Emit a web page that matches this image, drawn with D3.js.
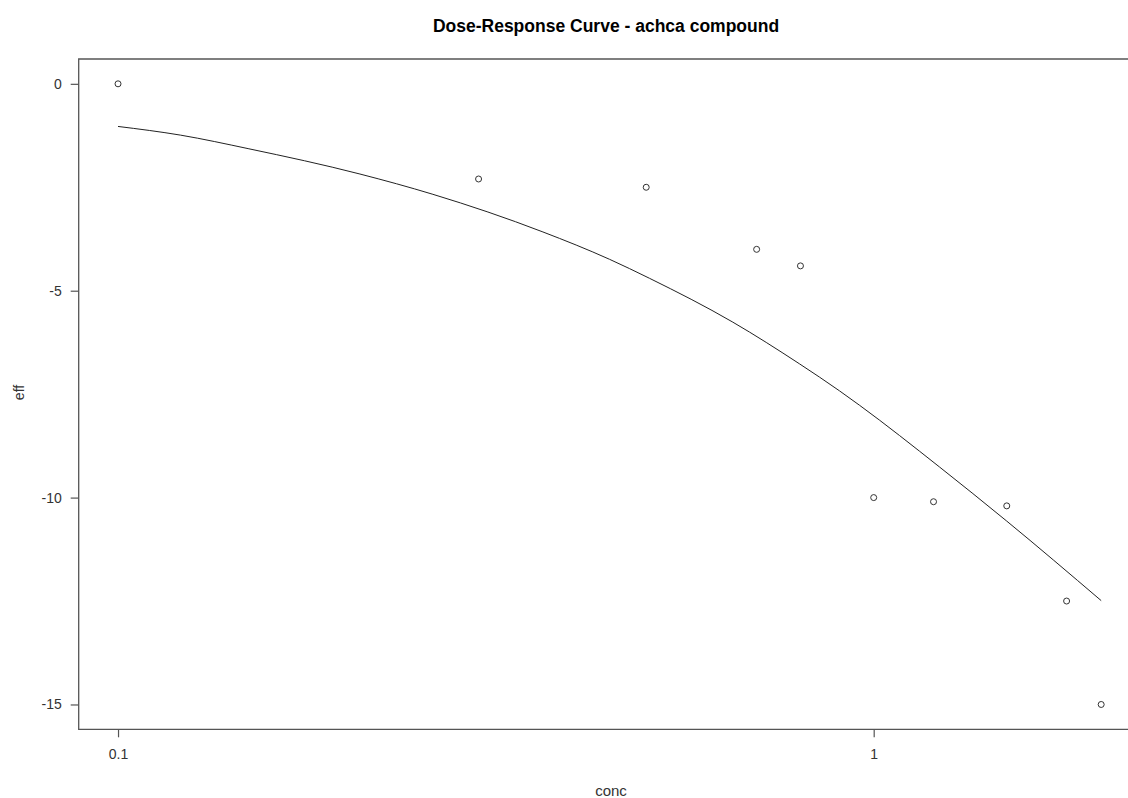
<!DOCTYPE html>
<meta charset="utf-8">
<style>

html,
body {
  margin: 0;
  overflow: hidden;
  background: #fff;
}

text {
  font-family: "Liberation Sans", Arial, sans-serif;
}

.frame {
  fill: none;
  stroke: #555;
  stroke-width: 1.3;
}

.fit {
  fill: none;
  stroke: #222;
  stroke-width: 1;
}

.obs {
  fill: none;
  stroke: #333;
  stroke-width: 1;
}

</style>
<body>
<script src="https://d3js.org/d3.v7.min.js"></script>
<script>

var width = 1128,
 height = 798;

// observed doses and effects
var conc = [0.1, 0.3, 0.5, 0.7, 0.8, 1, 1.2, 1.5, 1.8, 2];
var eff = [0, -2.3, -2.5, -4, -4.4, -10, -10.1, -10.2, -12.5, -15];

// fitted curve
var fitConc = [0.1, 0.121, 0.149, 0.209, 0.261, 0.365, 0.447, 0.505, 0.651, 0.798, 0.901, 0.958, 1.222, 1.498, 2];
var fitEff = [-1.03, -1.24, -1.57, -2.18, -2.67, -3.58, -4.24, -4.70, -5.76, -6.77, -7.42, -7.77, -9.26, -10.56, -12.49];

var xTicks = [0.1, 1];
var yTicks = [0, -5, -10, -15];

var plotLeft = 78.7,
 plotRight = 1140.5,
 plotTop = 59,
 plotBottom = 729.3;

// R style 4% padding around the data range
var lx = [Math.log10(0.1), Math.log10(2)],
 padX = (lx[1] - lx[0]) * 0.04;
var x = d3.scaleLog()
 .domain([Math.pow(10, lx[0] - padX), Math.pow(10, lx[1] + padX)])
 .range([plotLeft, plotRight]);

var y = d3.scaleLinear()
 .domain([-15 - 0.6, 0 + 0.6])
 .range([plotBottom, plotTop]);

var svg = d3.select("body")
 .append("svg")
 .attr("width", width)
 .attr("height", height);

svg.append("rect")
 .attr("width", width)
 .attr("height", height)
 .attr("fill", "#fff");

svg.append("text")
 .text("Dose-Response Curve - achca compound")
 .attr("x", 606)
 .attr("y", 32)
 .attr("text-anchor", "middle")
 .attr("font-weight", "bold")
 .attr("font-size", "17.5px")
 .attr("fill", "#000");

var xAxis = d3.axisBottom(x)
 .tickValues(xTicks)
 .tickFormat(function(d) { return String(d); })
 .tickSize(8)
 .tickPadding(9);

var yAxis = d3.axisLeft(y)
 .tickValues(yTicks)
 .tickFormat(function(d) { return String(d); })
 .tickSize(8)
 .tickPadding(9);

var gx = svg.append("g")
 .attr("transform", "translate(0," + plotBottom + ")")
 .call(xAxis);

var gy = svg.append("g")
 .attr("transform", "translate(" + plotLeft + ",0)")
 .call(yAxis);

[gx, gy].forEach(function(g) {
 g.select(".domain").remove();
 g.selectAll("line").attr("stroke", "#555").attr("stroke-width", 1.2);
 g.selectAll("text")
  .attr("font-size", "14px")
  .attr("fill", "#333")
  .style("font-family", "'Liberation Sans', Arial, sans-serif");
});

gx.selectAll("text").attr("dy", "0.9em");

svg.append("path")
 .attr("class", "frame")
 .attr("d", "M" + (width + 10) + "," + plotTop + "H" + plotLeft + "V" + plotBottom + "H" + (width + 10));

svg.append("path")
 .attr("class", "fit")
 .datum(d3.zip(fitConc, fitEff))
 .attr("d", d3.line()
  .x(function(d) { return x(d[0]); })
  .y(function(d) { return y(d[1]); })
  .curve(d3.curveMonotoneX));

svg.selectAll("circle.obs")
 .data(d3.zip(conc, eff))
 .enter().append("circle")
 .attr("class", "obs")
 .attr("cx", function(d) { return x(d[0]); })
 .attr("cy", function(d) { return y(d[1]); })
 .attr("r", 3);

svg.append("text")
 .text("conc")
 .attr("x", 611)
 .attr("y", 796)
 .attr("text-anchor", "middle")
 .attr("font-size", "15px")
 .attr("fill", "#333");

svg.append("text")
 .text("eff")
 .attr("transform", "translate(23.5,392.5) rotate(-90)")
 .attr("text-anchor", "middle")
 .attr("font-size", "14px")
 .attr("fill", "#333");

</script>
